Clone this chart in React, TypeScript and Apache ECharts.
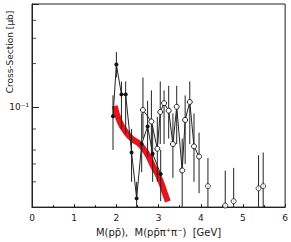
import React, { useEffect, useRef } from "react";
import * as echarts from "echarts";

// pp̄ data (filled dots)
const blackX = [1.92, 2.0, 2.12, 2.22, 2.36, 2.48, 2.6, 2.74, 2.86, 3.05];
const blackY = [0.086, 0.197, 0.122, 0.122, 0.048, 0.023, 0.055, 0.073, 0.047, 0.034];
const blackLo = [0.05, 0.16, 0.07, 0.065, 0.03, 0.02, 0.035, 0.045, 0.03, 0.022];
const blackHi = [0.12, 0.24, 0.15, 0.15, 0.07, 0.03, 0.09, 0.11, 0.075, 0.05];

// pp̄π+π- data (open circles, connected)
const openX = [2.63, 2.83, 2.97, 3.04, 3.13, 3.24, 3.34, 3.43, 3.56, 3.63, 3.74, 3.84, 3.96];
const openY = [0.095, 0.079, 0.051, 0.092, 0.106, 0.094, 0.055, 0.1, 0.036, 0.081, 0.108, 0.053, 0.045];
const openLo = [0.06, 0.045, 0.03, 0.055, 0.055, 0.06, 0.032, 0.055, 0.02, 0.04, 0.055, 0.03, 0.025];
const openHi = [0.16, 0.13, 0.085, 0.15, 0.13, 0.14, 0.09, 0.14, 0.06, 0.12, 0.15, 0.09, 0.066];

// isolated open circles at high mass
const tailX = [4.17, 4.58, 4.78, 5.37, 5.48];
const tailY = [0.028, 0.0205, 0.022, 0.027, 0.028];
const tailLo = [0.02, 0.02, 0.02, 0.02, 0.02];
const tailHi = [0.044, 0.036, 0.0375, 0.046, 0.048];

// red theory band
const redX = [1.96, 2.08, 2.24, 2.39, 2.55, 2.71, 2.87, 3.03, 3.14, 3.22];
const redY = [0.1015, 0.0786, 0.0658, 0.0593, 0.055, 0.0479, 0.0386, 0.0313, 0.0255, 0.0219];

// minor y ticks
const minorTicks = [0.4, 0.3, 0.2, 0.07, 0.05, 0.04, 0.03];
const xTickLabels = ["0", "1", "2", "3", "4", "5", "6"];

const FONT = "DejaVu Sans";

function errData(xs: number[], lo: number[], hi: number[]) {
  return xs.map((x, i) => [x, lo[i], hi[i]]);
}

function errSeries(data: number[][]) {
  return {
    type: "custom",
    data,
    encode: { x: 0, y: [1, 2] },
    clip: true,
    z: 2,
    renderItem: (params: any, api: any) => {
      const p1 = api.coord([api.value(0), api.value(1)]);
      const p2 = api.coord([api.value(0), api.value(2)]);
      return {
        type: "line",
        shape: { x1: p1[0], y1: p1[1], x2: p2[0], y2: p2[1] },
        style: { stroke: "#222", lineWidth: 1 },
      };
    },
  };
}

export default function App() {
  const ref = useRef<HTMLDivElement>(null);
  useEffect(() => {
    document.body.style.margin = "0";
    const chart = echarts.init(ref.current!, null, { renderer: "svg" });
    chart.setOption({
      animation: false,
      backgroundColor: "#fff",
      grid: {
        left: 32,
        right: 5,
        top: 4,
        bottom: 26,
        show: true,
        borderColor: "#222",
        borderWidth: 1,
      },
      xAxis: {
        type: "value",
        min: 0,
        max: 6,
        interval: 1,
        name: "M(pp\u0304),  M(pp\u0304\u03c0\u207a\u03c0\u207b)  [GeV]",
        nameLocation: "middle",
        nameGap: 19,
        nameTextStyle: { fontFamily: FONT, fontSize: 10, color: "#222" },
        axisLine: { lineStyle: { color: "#222", width: 1 } },
        axisTick: { inside: true, length: 3, lineStyle: { color: "#222" } },
        minorTick: { show: true, splitNumber: 2, length: 2, lineStyle: { color: "#222" } },
        axisLabel: {
          fontFamily: FONT,
          fontSize: 9,
          color: "#222",
          margin: 6,
          formatter: (v: number) => xTickLabels[Math.round(v)] ?? "",
        },
        splitLine: { show: false },
      },
      yAxis: {
        type: "log",
        logBase: 10,
        min: 0.02,
        max: 0.52,
        axisLine: { lineStyle: { color: "#222", width: 1 } },
        axisTick: { inside: true, length: 7, lineStyle: { color: "#222" } },
        axisLabel: {
          fontFamily: FONT,
          fontSize: 9,
          color: "#222",
          margin: 3,
          padding: [4, 0, 0, 0],
          formatter: (v: number) => (Math.abs(v - 0.1) < 1e-6 ? "10\u207b\u00b9" : ""),
        },
        splitLine: { show: false },
        minorTick: { show: false },
      },
      graphic: [
        {
          type: "text",
          x: 10,
          y: 52,
          rotation: Math.PI / 2,
          style: {
            text: "Cross-Section [\u03bcb]",
            fontFamily: FONT,
            fontSize: 9,
            fill: "#222",
            textAlign: "center",
            textVerticalAlign: "middle",
          },
        },
      ],
      series: [
        {
          type: "scatter",
          data: minorTicks.map((v) => [0, v]),
          symbol: "rect",
          symbolSize: [4, 1],
          symbolOffset: [2, 0],
          itemStyle: { color: "#222" },
          silent: true,
          z: 1,
        },
        {
          type: "line",
          data: redX.map((x, i) => [x, redY[i]]),
          smooth: true,
          showSymbol: false,
          lineStyle: { color: "#e8141c", width: 6 },
          z: 1,
        },
        errSeries(errData(blackX, blackLo, blackHi)),
        errSeries(errData(openX, openLo, openHi)),
        errSeries(errData(tailX, tailLo, tailHi)),
        {
          type: "line",
          data: blackX.map((x, i) => [x, blackY[i]]),
          symbol: "circle",
          symbolSize: 4,
          lineStyle: { color: "#222", width: 1 },
          itemStyle: { color: "#111", borderWidth: 0 },
          z: 3,
        },
        {
          type: "line",
          data: openX.map((x, i) => [x, openY[i]]),
          symbol: "circle",
          symbolSize: 5,
          lineStyle: { color: "#222", width: 1 },
          itemStyle: { color: "#fff", borderColor: "#222", borderWidth: 1 },
          z: 3,
        },
        {
          type: "scatter",
          data: tailX.map((x, i) => [x, tailY[i]]),
          symbol: "circle",
          symbolSize: 5,
          itemStyle: { color: "#fff", borderColor: "#222", borderWidth: 1 },
          z: 3,
        },
      ],
    });
    return () => chart.dispose();
  }, []);
  return <div ref={ref} style={{ width: 291, height: 242 }} />;
}
